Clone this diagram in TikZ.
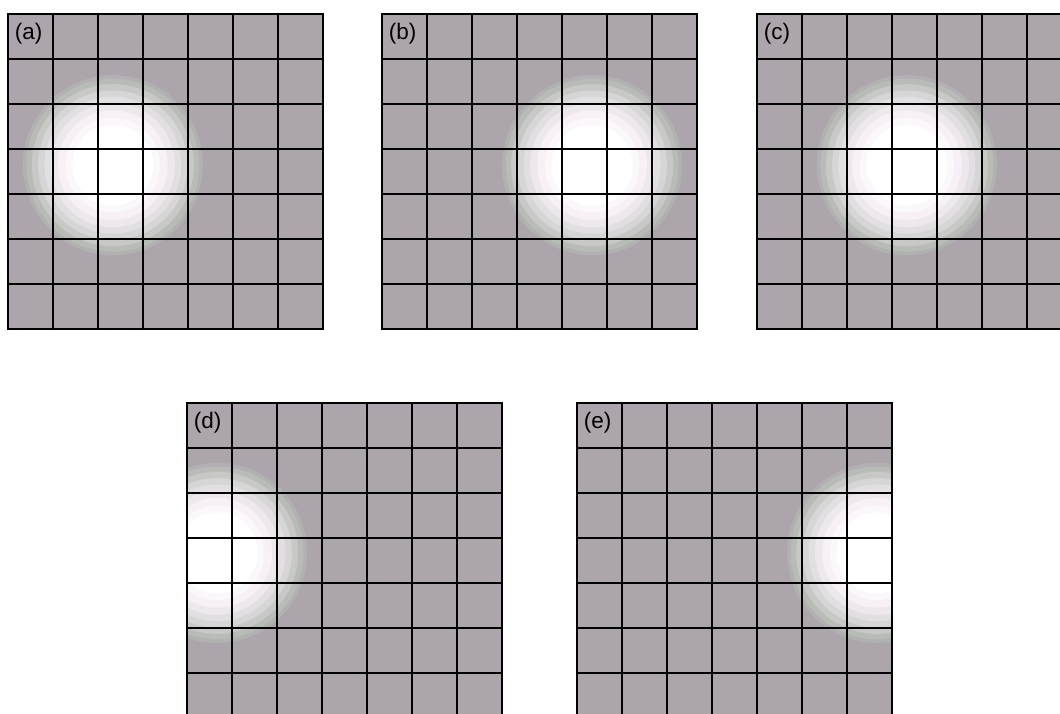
\documentclass[tikz,border=0pt]{standalone}
\usepackage{fontspec}
\setmainfont{Liberation Sans}
\definecolor{cellbg}{RGB}{172,166,172}
\definecolor{ringA}{RGB}{247,241,247}
\definecolor{ringB}{RGB}{226,223,226}
\definecolor{ringC}{RGB}{200,201,198}
\definecolor{ringD}{RGB}{184,188,182}
\begin{document}
\begin{tikzpicture}[x=1pt,y=1pt,
  gridline/.style={line width=1.6pt, black, line cap=rect},
  lbl/.style={anchor=west, inner sep=0pt, text=black, font=\fontsize{22.5}{24}\selectfont}]
\clip (0,0) rectangle (1060,713);
\useasboundingbox (0,0) rectangle (1060,713);
\fill[white] (0,0) rectangle (1060,713);
\foreach \nm/\gx/\gy/\cx/\cy in {a/8/14/2.33/3.36, b/382/14/4.67/3.36, c/757/14/3.33/3.36, d/187/403/0.67/3.33, e/577/403/6.67/3.33}{
  \begin{scope}[shift={(\gx,713-\gy)}, x=45pt, y=45pt]
    \fill[cellbg] (0,0) rectangle (7,-7);
    \begin{scope}
      \clip (0,0) rectangle (7,-7);
      \foreach \r/\col in {2.00/cellbg!50!ringD, 1.92/ringD, 1.80/ringC, 1.66/ringB!60!ringC, 1.52/ringB, 1.38/ringA!50!ringB, 1.22/ringA, 1.05/white!50!ringA, 0.90/white}{
        \fill[\col] (\cx,-\cy) circle (\r);
      }
    \end{scope}
    \foreach \i in {0,...,7}{
      \draw[gridline] (\i,0) -- (\i,-7);
      \draw[gridline] (0,-\i) -- (7,-\i);
    }
    \node[lbl] (lbl\nm) at (0.15,-0.43) {(\nm)};
  \end{scope}
}
\end{tikzpicture}
\end{document}
